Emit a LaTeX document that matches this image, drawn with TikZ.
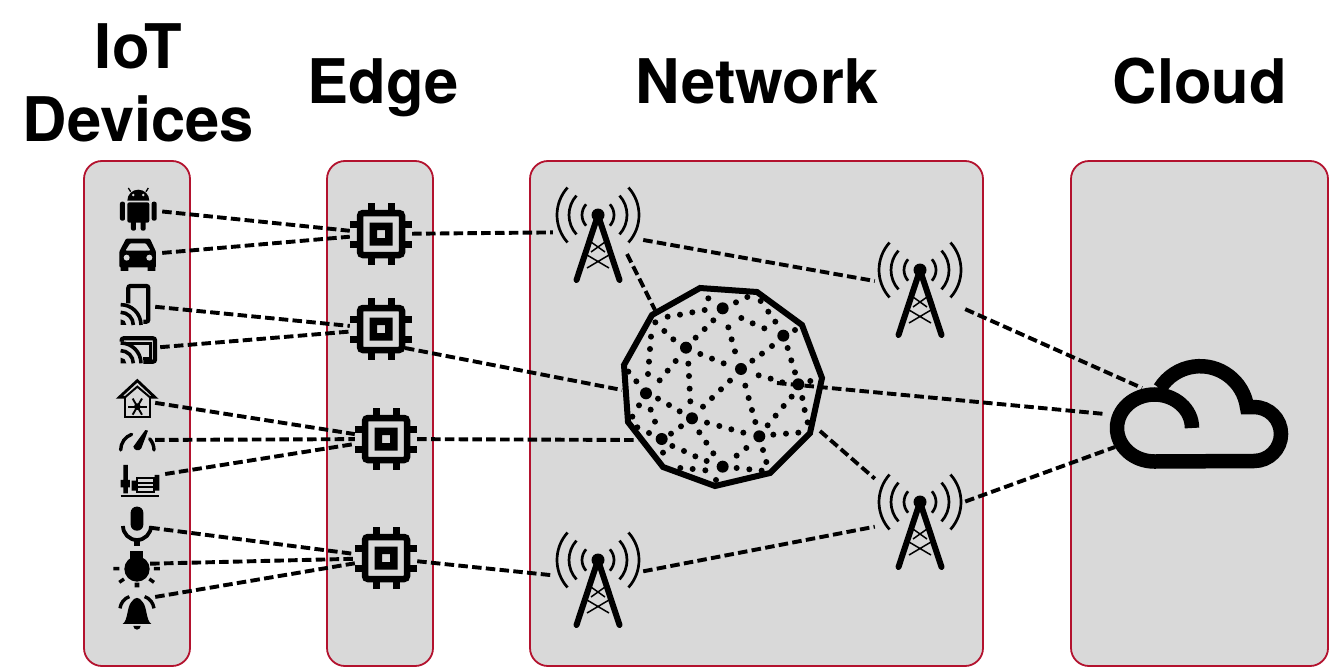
\documentclass[tikz,border=0pt]{standalone}
\usepackage{fontspec}
\setmainfont{TeX Gyre Heros}
\usepackage{xcolor}
\usetikzlibrary{calc}
\definecolor{tiergray}{HTML}{D9D9D9}
\definecolor{tierred}{HTML}{B3122E}
\tikzstyle{tier} = [rectangle, draw=tierred, fill=tiergray, rounded corners=18pt, line width=1.8pt, inner sep=0pt]
\tikzstyle{title} = [font=\bfseries\fontsize{61.5}{73}\selectfont, inner sep=0pt]
\tikzstyle{link} = [line width=3.9pt, dash pattern=on 9.5pt off 4.3pt]
\tikzstyle{spot} = [rectangle, inner sep=0pt, minimum height=26pt]
\tikzstyle{chipspot} = [rectangle, inner sep=0pt, minimum size=62pt]
\tikzstyle{towerspot} = [rectangle, inner sep=0pt, minimum width=90pt, minimum height=100pt]
\tikzset{
	chip/.pic={
		\draw[line width=6.5pt, rounded corners=3pt] (-21,-21) rectangle (21,21);
		\fill[even odd rule] (-11.5,-11.5) rectangle (11.5,11.5) (-4,-4) rectangle (4,4);
		\foreach \s in {-10,10} {
			\fill (\s-3.5,-31) rectangle (\s+3.5,-24);
			\fill (\s-3.5,24) rectangle (\s+3.5,31);
			\fill (-31,\s-3.5) rectangle (-24,\s+3.5);
			\fill (24,\s-3.5) rectangle (31,\s+3.5);
		}
	},
	mast/.pic={
		\fill (0,0) circle[radius=6.5];
		\draw[line width=6pt, line cap=round, line join=round] (-21.5,65) -- (0,0) -- (21.5,65);
		\draw[line width=1.5pt] (-7,27) -- (7,37) (7,27) -- (-7,37) (-11,40) -- (11,53) (11,40) -- (-11,53);
		\foreach \r in {16,29,41} {
			\draw[line width=2.7pt] (138:\r) arc[start angle=138, end angle=222, radius=\r];
			\draw[line width=2.7pt] (-42:\r) arc[start angle=-42, end angle=42, radius=\r];
		}
	},
	castwaves/.pic={
		\fill (0,0) -- (17,0) arc[start angle=0, end angle=-90, radius=17] -- cycle;
		\draw[line width=3.6pt] (38,0) arc[start angle=0, end angle=-90, radius=38];
		\draw[line width=3.6pt] (61,0) arc[start angle=0, end angle=-90, radius=61];
	}
}
\begin{document}
\begin{tikzpicture}[x=1pt, y=-1pt]
	\useasboundingbox (0,0) rectangle (1329,669);
	\node[tier, minimum width=106pt, minimum height=505pt] (iot) at (137,413.5) {};
	\node[tier, minimum width=106pt, minimum height=505pt] (edge) at (380,413.5) {};
	\node[tier, minimum width=453pt, minimum height=505pt] (network) at (756.5,413.5) {};
	\node[tier, minimum width=257pt, minimum height=505pt] (datacenter) at (1199.5,413.5) {};
	\node[title, align=center] (iottitle) at (138.5,83) {IoT\\Devices};
	\node[title, anchor=base] (edgetitle) at (383,103) {Edge};
	\node[title, anchor=base] (networktitle) at (757,103) {Network};
	\node[title, anchor=base] (cloudtitle) at (1200,103) {Cloud};
	%%%%%%%%%%%%%%%%%%%%%%%%%%%%%%%%%%
	\node[spot, minimum width=48pt] (android) at (138,209) {};
	\node[spot, minimum width=48pt] (car) at (138,255) {};
	\node[spot, minimum width=36pt] (phone) at (137,305) {};
	\node[spot, minimum width=44pt] (cast) at (138,349) {};
	\node[spot, minimum width=36pt] (thermo) at (137,400) {};
	\node[spot, minimum width=36pt] (gauge) at (137,440) {};
	\node[spot, minimum width=50pt] (motor) at (140,478) {};
	\node[spot, minimum width=26pt] (mic) at (137,526) {};
	\node[spot, minimum width=26pt] (bulb) at (137,564) {};
	\node[spot, minimum width=36pt] (bell) at (137,600) {};
	\node[chipspot] (chipA) at (381,234) {};
	\node[chipspot] (chipB) at (381,329) {};
	\node[chipspot] (chipC) at (386,439) {};
	\node[chipspot] (chipD) at (386,558) {};
	\node[towerspot] (towerA) at (598,232) {};
	\node[towerspot] (towerB) at (920,289) {};
	\node[towerspot] (towerC) at (920,518) {};
	\node[towerspot] (towerD) at (598,580) {};
	\coordinate (towerAlow) at (627,254);
	\coordinate (chipBlow) at (405,348);
	\coordinate (meshnw) at (655,310);
	\coordinate (meshw) at (622,390);
	\coordinate (meshsw) at (638,440);
	\coordinate (meshe) at (777,383);
	\coordinate (meshse) at (820,431);
	\coordinate (cloudtop) at (1142,388);
	\coordinate (cloudleft) at (1105,414);
	\coordinate (cloudlow) at (1115,447);
	%%%%%%%%%%%%%%%%%%%%%%%%%%%%%%%%%%
	\draw[link] (android) -- (chipA);
	\draw[link] (car) -- (chipA);
	\draw[link] (phone) -- (chipB);
	\draw[link] (cast) -- (chipB);
	\draw[link] (thermo) -- (chipC);
	\draw[link] (gauge) -- (chipC);
	\draw[link] (motor) -- (chipC);
	\draw[link] (mic) -- (chipD);
	\draw[link] (bulb) -- (chipD);
	\draw[link] (bell) -- (chipD);
	\draw[link] (chipA) -- (towerA);
	\draw[link] (chipBlow) -- (meshw);
	\draw[link] (chipC) -- (meshsw);
	\draw[link] (chipD) -- (towerD);
	\draw[link] (towerAlow) -- (meshnw);
	\draw[link] (towerA) -- (towerB);
	\draw[link] (towerB) -- (cloudtop);
	\draw[link] (meshe) -- (cloudleft);
	\draw[link] (meshse) -- (towerC);
	\draw[link] (towerC) -- (cloudlow);
	\draw[link] (towerD) -- (towerC);
	%%%%%%%%%%%%%%%%%%%%%%%%%%%%%%%%%%
	\pic at ($(chipA)$) {chip};
	\pic at ($(chipB)$) {chip};
	\pic at ($(chipC)$) {chip};
	\pic at ($(chipD)$) {chip};
	\pic at ($(towerA)+(0,-17)$) {mast};
	\pic at ($(towerB)+(0,-19)$) {mast};
	\pic at ($(towerC)+(0,-16)$) {mast};
	\pic at ($(towerD)+(0,-20)$) {mast};
	%%%%%%%%%%%%%%%%%%%%%%%%%%%%%%%%%%
	% mesh
	\draw[line width=6pt, line join=miter] (700,288) -- (757,292) -- (802,325) -- (822,378) -- (810,433) -- (770,473) -- (715,486) -- (663,467) -- (628,422) -- (624,365) -- (652,315) -- cycle;
	\begin{scope}[shift={(610,275)}, x=0.3333pt, y=-0.3333pt]
		\foreach \p in {(338,100),(228,218),(520,182),(393,282),(565,328),(108,355),(246,430),(155,492),(448,484),(338,575)}
			\fill \p circle[radius=18];
		\foreach \p in {(295,70),(378,82),(412,66),(452,78),(475,110),(496,140),(463,160),(428,145),(394,129),(355,157),(365,193),(375,229),(310,136),(284,105),(247,112),(210,119),(173,125),(136,142),(163,168),(190,193),(123,185),(120,222),(117,260),(114,297),(79,319),(149,316),(173,287),(197,258),(284,162),(257,188),(271,237),(306,251),(341,265),(235,266),(237,303),(239,341),(241,379),(279,395),(306,369),(333,343),(360,317),(427,257),(456,236),(486,213),(555,165),(533,219),(544,256),(555,292),(446,301),(482,311),(517,322),(601,318),(577,369),(545,365),(521,393),(497,422),(473,451),(584,405),(593,442),(565,473),(528,476),(490,479),(406,332),(416,369),(426,405),(436,441),(400,473),(364,463),(328,453),(291,443),(268,472),(289,503),(310,535),(290,558),(286,586),(248,582),(211,579),(256,544),(222,528),(187,513),(159,533),(183,476),(213,454),(209,409),(177,390),(144,371),(122,404),(87,391),(135,440),(67,425),(82,457),(117,474),(459,525),(409,519),(380,542),(380,579),(418,583),(455,587),(469,561),(318,615),(55,290)}
			\fill \p circle[radius=9];
	\end{scope}
	% cloud
	\draw[line width=14.5pt, line join=miter] (1192,428) arc[start angle=0, end angle=-270, x radius=37.5, y radius=33.5] -- (1254,461) arc[start angle=90, end angle=-90, radius=27] -- (1247,407) arc[start angle=-8, end angle=-148, radius=47.4];
	%%%%%%%%%%%%%%%%%%%%%%%%%%%%%%%%%%
	% upper devices
	\begin{scope}[shift={(80,160)}, x=0.3333pt, y=-0.3333pt]
		\fill (142,122) arc[start angle=180, end angle=360, radius=33] -- cycle;
		\draw[line width=1.3pt] (152,95) -- (145,84) (198,95) -- (205,84);
		\fill[tiergray] (160,105) circle[radius=4] (190,105) circle[radius=4];
		\fill[rounded corners=2pt] (142,127) rectangle (208,188);
		\fill[rounded corners=2pt] (120,125) rectangle (135,182) (215,125) rectangle (230,182);
		\fill[rounded corners=2pt] (153,180) rectangle (168,212) (182,180) rectangle (197,212);
		\fill[rounded corners=1pt, even odd rule] (118,322) -- (118,275) -- (138,236) -- (210,236) -- (228,275) -- (228,322) -- cycle (136,272) -- (150,250) -- (198,250) -- (212,272) -- cycle;
		\fill (122,318) rectangle (145,333) (203,318) rectangle (226,333);
		\fill[tiergray] (140,293) circle[radius=9] (208,293) circle[radius=9];
		\draw[line width=4.2pt, rounded corners=2pt] (145,430) -- (145,378) -- (205,378) -- (205,485) -- (190,485);
		\pic at (122,495) {castwaves};
		\draw[line width=4.2pt, rounded corners=2pt] (125,545) -- (125,535) -- (225,535) -- (225,605) -- (190,605);
		\draw[line width=2.6pt] (138,551) -- (212,551) -- (212,595) -- (190,595);
		\pic at (122,610) {castwaves};
		\draw[line width=2.8pt, line join=miter] (135,712) -- (118,712) -- (172,662) -- (225,712) -- (210,712);
		\draw[line width=2pt, line join=miter] (135,712) -- (172,680) -- (210,712);
		\draw[line width=2.6pt] (135,712) -- (135,771) -- (210,771) -- (210,712);
		\foreach \a in {0,60,120} {
			\draw[line width=1.9pt] (172,740) ++(\a:28) -- ++(\a+180:56);
		}
		\fill (172,740) circle[radius=10];
	\end{scope}
	% lower devices
	\begin{scope}[shift={(80,400)}, x=0.3333pt, y=-0.3333pt]
		\draw[line width=3.4pt, line cap=round] (172,150) ++(180:50) arc[start angle=180, end angle=250, radius=50];
		\draw[line width=3.4pt, line cap=round] (172,150) ++(-42:50) arc[start angle=-42, end angle=0, radius=50];
		\fill (160,140) -- (196,90) -- (204,92) -- (184,145) .. controls (178,155) and (162,152) .. (160,140) -- cycle;
		\draw[line width=2.4pt] (122,288) -- (238,288);
		\fill (130,195) rectangle (144,280) (122,240) rectangle (150,262);
		\draw[line width=2.2pt] (172,235) rectangle (222,275) (172,248) -- (222,248) (172,262) -- (222,262);
		\fill (155,242) rectangle (170,272) (224,225) rectangle (238,272);
		\fill[rounded corners=6pt] (152,320) rectangle (190,392);
		\draw[line width=3.8pt] (129,378) arc[start angle=180, end angle=0, radius=42];
		\draw[line width=5.5pt] (171,420) -- (171,437);
		\fill (150,453) rectangle (190,485);
		\fill (171,507) circle[radius=38];
		\fill (100,501) rectangle (118,511) (222,501) rectangle (240,511) (164,548) rectangle (178,562);
		\draw[line width=3.4pt] (118,547) -- (132,537) (222,547) -- (208,537);
		\fill (128,672) .. controls (145,660) and (140,620) .. (155,605) .. controls (165,590) and (177,590) .. (187,605) .. controls (202,620) and (197,660) .. (214,672) -- cycle;
		\fill (160,678) arc[start angle=180, end angle=0, radius=11] -- cycle;
		\draw[line width=3.4pt] (120,625) .. controls (122,610) and (132,595) .. (148,590);
		\draw[line width=3.4pt] (222,625) .. controls (220,610) and (210,595) .. (194,590);
	\end{scope}
\end{tikzpicture}
\end{document}
